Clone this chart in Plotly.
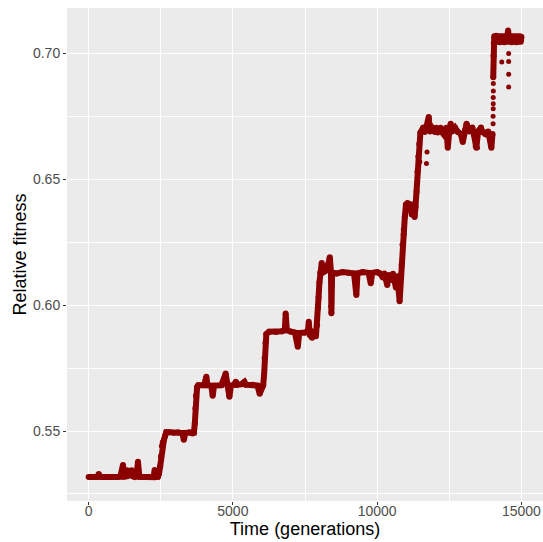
import plotly.graph_objects as go

# ---- data (generations, relative fitness) ----
# main trajectory; None splits the path where the reference shows a gap
time_main = [
    0, 300, 350, 420, 1000, 1100, 1190, 1240, 1300, 1330, 1380, 1430, 1490, 1540,
    1600, 1660, 1710, 1760, 1850, 2250, 2290, 2330, 2400, 2440, 2480, 2510, 2540,
    2570, 2610, 2650, 2690,
    2800, 2950, 3100, 3250, 3300, 3350, 3500, 3600, 3650,
    3680, 3700, 3720, 3760, 3800,
    4000, 4080, 4120, 4250, 4300, 4350, 4600, 4750, 4800, 4880, 4930, 5050, 5100,
    5150, 5300, 5400, 5450, 5700, 5850, 5930, 5990, 6050,
    6080, 6100, 6130, 6160, 6250,
    6500, 6700, 6800, 6830, 6870, 7000, 7150, 7250, 7300, 7500, 7600, 7630, 7670,
    7750, 7800, 7880,
    7920, 7950, 7970, 8000, 8030, 8080, 8120, 8200, 8300, 8360, 8400, 8415, 8440, 8500,
    8600, 8800, 9000, 9200, 9280, 9320, 9500, 9700, 9780, 9830, 10000, 10100, 10200,
    10250, 10350, 10400, 10500, 10550, 10650, 10700, 10780, 10820,
    10850, 10880, 10920, 10960, 11000,
    11050, 11150, 11200, 11250, 11300, 11330,
    11370, 11400, 11430, 11460, 11500,
    11600, 11650, 11700, 11790, 11830, 11900, 12000, 12050, 12100, 12200, 12250,
    12300, 12400, 12450, 12500, 12550, 12600, 12700, 12800, 12900, 12970, 13050,
    13100, 13200, 13300, 13350, 13440, 13500, 13600, 13650, 13750, 13850, 13960, 14000,
    None,
    14025, 14035, 14045, 14060, 14090, 14130, 14170, 14210, 14250, 14290, 14330,
    14370, 14410, 14450, 14490, 14540, 14580, 14620, 14660, 14700, 14740, 14780,
    14820, 14860, 14900, 14940, 14980, 15000,
]
fitness_main = [
    0.5317, 0.5317, 0.5329, 0.5317, 0.5317, 0.5319, 0.5365, 0.5319, 0.5320, 0.5344,
    0.5322, 0.5340, 0.5344, 0.5320, 0.5318, 0.5325, 0.5378, 0.5318, 0.5317, 0.5317,
    0.5345, 0.5318, 0.5318, 0.5330, 0.5360, 0.5400, 0.5440, 0.5455, 0.5465, 0.5480,
    0.5495,
    0.5495, 0.5493, 0.5495, 0.5492, 0.5465, 0.5492, 0.5494, 0.5490, 0.5494,
    0.5530, 0.5590, 0.5640, 0.5675, 0.5682,
    0.5682, 0.5715, 0.5682, 0.5680, 0.5640, 0.5680, 0.5682, 0.5728, 0.5682, 0.5636,
    0.5680, 0.5684, 0.5696, 0.5684, 0.5686, 0.5695, 0.5684, 0.5684, 0.5680, 0.5648,
    0.5670, 0.5682,
    0.5720, 0.5790, 0.5850, 0.5885, 0.5894,
    0.5893, 0.5896, 0.5900, 0.5967, 0.5900, 0.5894, 0.5891, 0.5835, 0.5889, 0.5891,
    0.5896, 0.5934, 0.5881, 0.5870, 0.5886, 0.5876,
    0.5920, 0.5990, 0.6030, 0.6090, 0.6130, 0.6167, 0.6130, 0.6135, 0.6160, 0.6190,
    0.6130, 0.5968, 0.6120, 0.6128,
    0.6126, 0.6131, 0.6129, 0.6126, 0.6040, 0.6126, 0.6131, 0.6128, 0.6087, 0.6128,
    0.6131, 0.6126, 0.6110, 0.6126, 0.6080, 0.6120, 0.6100, 0.6125, 0.6070, 0.6115,
    0.6015, 0.6120,
    0.6160, 0.6240, 0.6280, 0.6350, 0.6400,
    0.6405, 0.6400, 0.6360, 0.6400, 0.6350, 0.6390,
    0.6450, 0.6530, 0.6590, 0.6640, 0.6685,
    0.6705, 0.6688, 0.6704, 0.6747, 0.6690, 0.6705, 0.6688, 0.6704, 0.6686, 0.6704,
    0.6688, 0.6680, 0.6704, 0.6625, 0.6690, 0.6720, 0.6690, 0.6705, 0.6688, 0.6680,
    0.6648, 0.6695, 0.6720, 0.6690, 0.6705, 0.6680, 0.6625, 0.6690, 0.6705, 0.6688,
    0.6680, 0.6690, 0.6625, 0.6680,
    None,
    0.6905, 0.6990, 0.7040, 0.7068, 0.7046, 0.7070, 0.7046, 0.7068, 0.7044, 0.7068,
    0.7046, 0.7068, 0.7044, 0.7068, 0.7046, 0.7091, 0.7046, 0.7068, 0.7044, 0.7068,
    0.7046, 0.7068, 0.7044, 0.7068, 0.7046, 0.7068, 0.7046, 0.7066,
]

# isolated points away from the main band
time_sparse = [8390, 8415, 10905, 11480, 11710, 11730, 13400, 13480, 14020, 14020,
               14025, 14025, 14025, 14028, 14028, 14320, 14560, 14560, 14560, 14560]
fitness_sparse = [0.5995, 0.6020, 0.6300, 0.6569, 0.6562, 0.6608, 0.6630, 0.6625,
                  0.6720, 0.6750, 0.6780, 0.6800, 0.6825, 0.6850, 0.6880, 0.6966,
                  0.6999, 0.6968, 0.6917, 0.6866]

x_ticks = [0, 5000, 10000, 15000]
y_ticks = [0.55, 0.60, 0.65, 0.70]

RED = "#8B0000"
FONT = "Liberation Sans, Arial, sans-serif"

fig = go.Figure()
fig.add_trace(go.Scatter(
    x=time_main, y=fitness_main, mode="lines+markers",
    line=dict(color=RED, width=6), marker=dict(color=RED, size=6),
    connectgaps=False, hoverinfo="skip", showlegend=False,
))
fig.add_trace(go.Scatter(
    x=time_sparse, y=fitness_sparse, mode="markers",
    marker=dict(color=RED, size=5), hoverinfo="skip", showlegend=False,
))

fig.update_layout(
    width=543, height=542,
    margin=dict(l=67, r=0, t=8, b=41),
    paper_bgcolor="white", plot_bgcolor="#EBEBEB",
    font=dict(family=FONT, color="#4D4D4D", size=14),
    showlegend=False,
)
fig.update_xaxes(
    range=[-750, 15750], tickmode="array", tickvals=x_ticks,
    ticktext=[str(v) for v in x_ticks],
    ticks="outside", ticklen=3, tickwidth=1, tickcolor="#333333",
    tickfont=dict(size=14, color="#4D4D4D"), ticklabelstandoff=-6,
    showgrid=True, gridcolor="white", gridwidth=1.1, zeroline=False, showline=False,
    minor=dict(tickmode="array", tickvals=[2500, 7500, 12500],
               showgrid=True, gridcolor="white", gridwidth=0.5, ticks=""),
    title=dict(text="Time (generations)", font=dict(size=18, color="black"), standoff=4),
)
fig.update_yaxes(
    range=[0.5222, 0.7180], tickmode="array", tickvals=y_ticks,
    ticktext=["%.2f" % v for v in y_ticks],
    ticks="outside", ticklen=3, tickwidth=1, tickcolor="#333333",
    tickfont=dict(size=14, color="#4D4D4D"),
    showgrid=True, gridcolor="white", gridwidth=1.1, zeroline=False, showline=False,
    minor=dict(tickmode="array", tickvals=[0.525, 0.575, 0.625, 0.675],
               showgrid=True, gridcolor="white", gridwidth=0.5, ticks=""),
    title=dict(text="Relative fitness", font=dict(size=18, color="black"), standoff=1),
)

fig.write_html("out.html")
